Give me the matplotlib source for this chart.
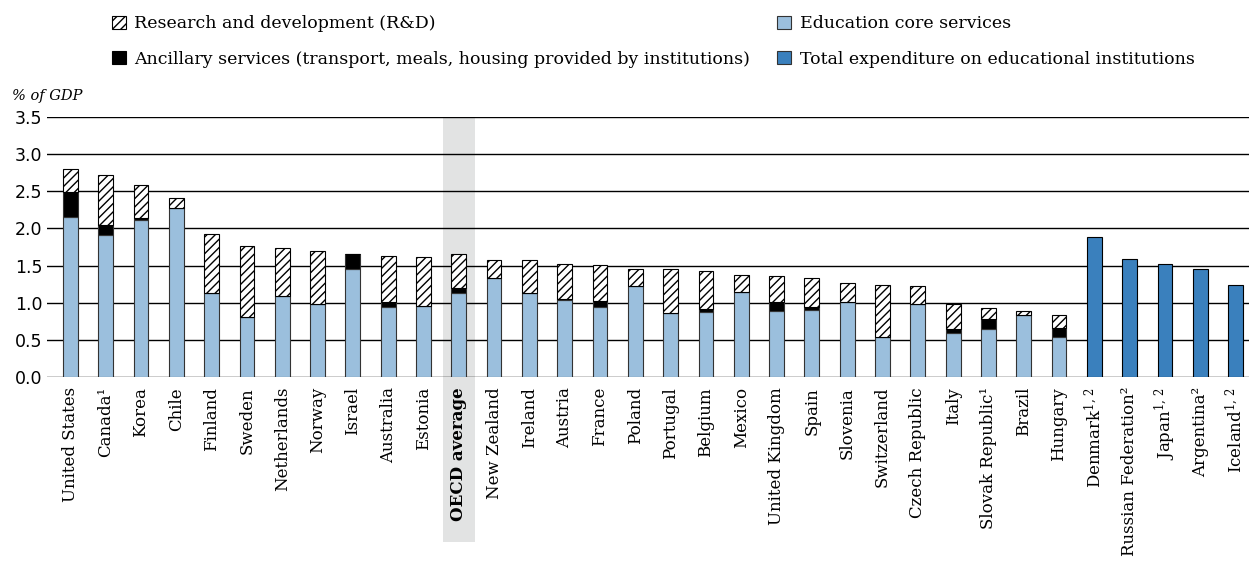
import numpy as np
import matplotlib
matplotlib.use("Agg")
from matplotlib import pyplot as plt
from matplotlib.patches import Patch

plt.rcParams['mathtext.fontset'] = 'dejavuserif'
plt.rcParams['hatch.linewidth'] = 1.0

countries = ["United States", "Canada¹", "Korea", "Chile", "Finland", "Sweden",
             "Netherlands", "Norway", "Israel", "Australia", "Estonia", "OECD average",
             "New Zealand", "Ireland", "Austria", "France", "Poland", "Portugal",
             "Belgium", "Mexico", "United Kingdom", "Spain", "Slovenia", "Switzerland",
             "Czech Republic", "Italy", "Slovak Republic¹", "Brazil", "Hungary",
             "Denmark$^{1,\\,2}$", "Russian Federation²", "Japan$^{1,\\,2}$",
             "Argentina²", "Iceland$^{1,\\,2}$"]

# education core services (first 29 entries)
core = [2.15, 1.91, 2.11, 2.27, 1.13, 0.81, 1.09, 0.98, 1.46, 0.94, 0.96, 1.13,
        1.33, 1.13, 1.04, 0.94, 1.22, 0.86, 0.88, 1.15, 0.89, 0.90, 1.01, 0.54,
        0.98, 0.60, 0.65, 0.83, 0.54]
ancillary = [0.34, 0.14, 0.03, 0.0, 0.0, 0.0, 0.0, 0.01, 0.20, 0.07, 0.0, 0.07,
             0.0, 0.0, 0.01, 0.09, 0.0, 0.0, 0.04, 0.0, 0.12, 0.05, 0.0, 0.0,
             0.0, 0.05, 0.13, 0.0, 0.12]
rnd = [0.31, 0.67, 0.44, 0.14, 0.79, 0.95, 0.65, 0.71, 0.0, 0.62, 0.65, 0.45,
       0.25, 0.44, 0.47, 0.48, 0.24, 0.59, 0.51, 0.23, 0.35, 0.39, 0.26, 0.70,
       0.25, 0.33, 0.15, 0.06, 0.18]
# total only (last 5 entries)
total_only = [1.88, 1.59, 1.52, 1.46, 1.24]

light = "#9BBFDD"
dark = "#3A80BD"
edge = "#333333"

fig = plt.figure(figsize=(12.49, 5.62), dpi=100)
ax = fig.add_axes([0.0374, 0.3287, 0.9626, 0.4636])

n = len(core)
x = np.arange(n)
xt = np.arange(n, n + len(total_only))
w = 0.42

core = np.array(core)
ancillary = np.array(ancillary)
rnd = np.array(rnd)

ax.bar(x, core, w, color=light, edgecolor=edge, linewidth=0.8, zorder=3)
ax.bar(x, ancillary, w, bottom=core, color="black", edgecolor=edge, linewidth=0.8, zorder=3)
ax.bar(x, rnd, w, bottom=core + ancillary, color="white", edgecolor="black",
       hatch="////", linewidth=0.8, zorder=3)
ax.bar(xt, total_only, w, color=dark, edgecolor="black", linewidth=0.8, zorder=3)

# OECD average highlight
ax.axvspan(11 - 0.453, 11 + 0.453, ymin=-0.632, ymax=1, color="#E2E3E3",
           clip_on=False, zorder=0, linewidth=0)

ax.set_ylim(0, 3.5)
ax.set_xlim(-0.67, 33.38)
ax.set_yticks(np.arange(0, 3.51, 0.5))
ax.set_yticklabels([f"{v:.1f}" for v in np.arange(0, 3.51, 0.5)], fontsize=12.5)
ax.yaxis.grid(True, color="black", linewidth=1.0, zorder=1)
ax.set_axisbelow(True)
for s in ax.spines.values():
    s.set_visible(False)
ax.tick_params(axis="y", length=0, pad=3)
ax.tick_params(axis="x", length=0, pad=7)

ax.set_xticks(np.arange(len(countries)))
ax.set_xticklabels(countries, rotation=90, fontsize=12, family="DejaVu Serif",
                   va="top", ha="center")
for lab in ax.get_xticklabels():
    if lab.get_text() == "OECD average":
        lab.set_fontweight("bold")

fig.text(0.01, 0.83, "% of GDP", fontsize=10.5, style="italic", family="DejaVu Serif",
         va="center")

leg_kw = dict(frameon=False, handlelength=0.8, handleheight=0.8,
              handletextpad=0.5, labelspacing=1.05, borderaxespad=0,
              prop={"family": "DejaVu Serif", "size": 12.5})
h1 = [Patch(facecolor="white", edgecolor="black", hatch="////", linewidth=0.8),
      Patch(facecolor="black", edgecolor="black", linewidth=0.8)]
fig.legend(h1, ["Research and development (R&D)",
                "Ancillary services (transport, meals, housing provided by institutions)"],
           loc="upper left", bbox_to_anchor=(0.084, 0.985), **leg_kw)
h2 = [Patch(facecolor=light, edgecolor=edge, linewidth=0.8),
      Patch(facecolor=dark, edgecolor=edge, linewidth=0.8)]
fig.legend(h2, ["Education core services", "Total expenditure on educational institutions"],
           loc="upper left", bbox_to_anchor=(0.6165, 0.985), **leg_kw)

fig.savefig("out.png", dpi=100)
